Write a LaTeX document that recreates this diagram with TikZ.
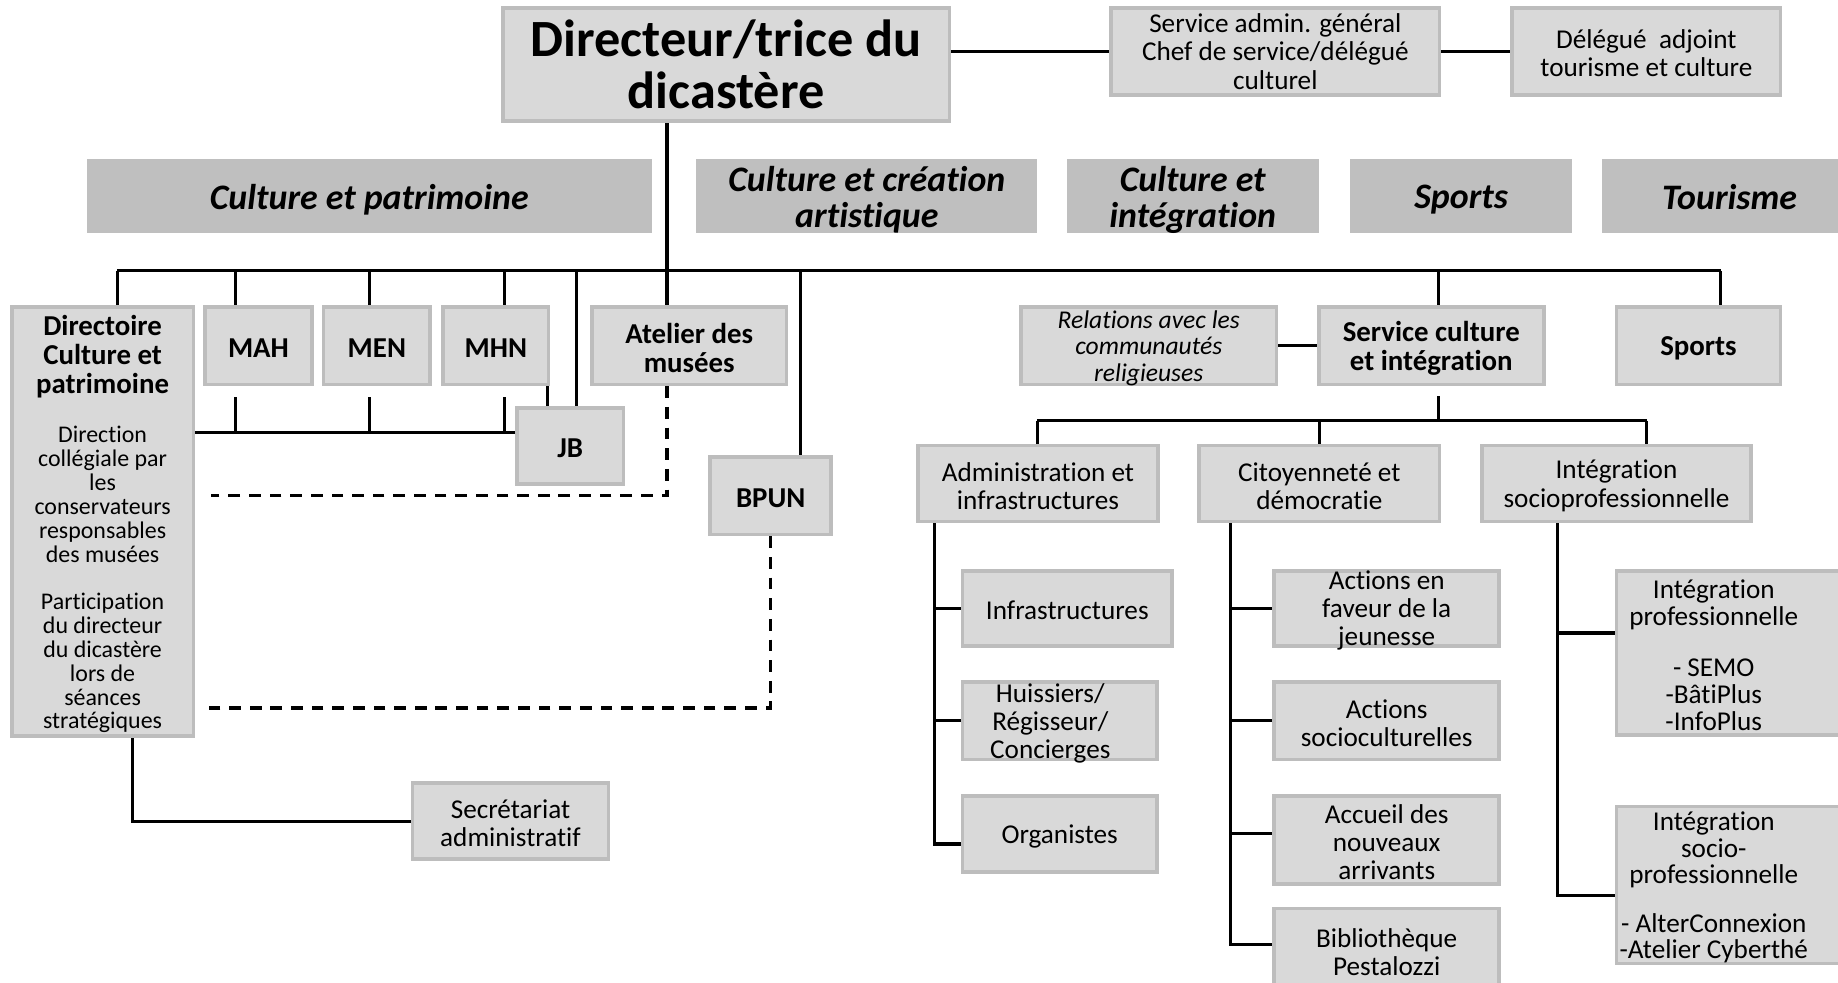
\documentclass[tikz,border=0pt]{standalone}
\usepackage{fontspec}
\setmainfont{Carlito}[Ligatures=NoCommon]
\definecolor{boxfill}{HTML}{D9D9D9}
\definecolor{boxline}{HTML}{BDBDBD}
\definecolor{catfill}{HTML}{BFBFBF}
\pgfdeclarelayer{background}
\pgfsetlayers{background,main}
\newcommand{\dpar}{\par}
\begin{document}
\begin{tikzpicture}[x=0.5pt,y=-0.5pt,
  every label/.append style={yshift=-1pt},
  box/.style={draw=boxline, fill=boxfill, line width=1.6pt, inner sep=0pt},
  wh/.style n args={2}{minimum width=#1*0.5pt, minimum height=#2*0.5pt},
  cat/.style={fill=catfill, draw=none, inner sep=0pt},
  tn/.style={align=center, inner sep=0pt, font=\fontsize{11.6}{12}\selectfont},
  tp/.style={align=center, inner sep=0pt, font=\fontsize{11.6}{11.5}\selectfont},
  tb/.style={align=center, inner sep=0pt, font=\fontsize{12.3}{12.5}\selectfont\bfseries},
  ti/.style={align=center, inner sep=0pt, font=\fontsize{10.9}{11.25}\selectfont\itshape},
  tc/.style={align=center, inner sep=0pt, yshift=-0.5pt, font=\fontsize{15.3}{15.5}\selectfont\bfseries\itshape},
  conn/.style={line width=1.3pt, black},
  dconn/.style={conn, dash pattern=on 5pt off 3.8pt},
]
\useasboundingbox (0,0) rectangle (1568,838);
\clip (0,0) rectangle (1568,838);

% ---- top
\node[box, wh={381}{96}, label={[align=center, inner sep=0pt, yshift=1pt, font=\fontsize{22.3}{22.5}\selectfont\bfseries]center:{Directeur/trice du\\dicastère}}] (dir) at (619.5,55) {};
\node[box, wh={280}{74}, label={[tn, yshift=1pt]center:{Service admin. général\\Chef de service/délégué\\culturel}}] (sag) at (1088,44) {};
\node[box, wh={229}{74}, label={[tn, yshift=0.5pt]center:{Délégué\ \ adjoint\\tourisme et culture}}] (del) at (1404.5,44) {};

% ---- categories
\node[cat, wh={482}{63}, label={[tc]center:{Culture et patrimoine}}] (ccp) at (315,167.5) {};
\node[cat, wh={291}{63}, label={[tc]center:{Culture et création\\artistique}}] (ccc) at (739.5,167.5) {};
\node[cat, wh={215}{63}, label={[tc]center:{Culture et\\intégration}}] (cci) at (1017.5,167.5) {};
\node[cat, wh={189}{63}, label={[tc]center:{Sports}}] (csp) at (1246.5,167.5) {};
\node[cat, wh={217}{63}, label={[tc, yshift=1pt]center:{Tourisme}}] (ctou) at (1475.5,167.5) {};

% ---- left group
\node[box, wh={155}{366}, label={[align=flush center, inner sep=0pt, text width=76pt]center:{{\fontsize{12.3}{12.5}\selectfont\bfseries Directoire\\Culture et\\patrimoine\dpar}\vspace{10.8pt}{\fontsize{10.2}{10.2}\selectfont Direction\\collégiale par\\les\\conservateurs\\responsables\\des musées\dpar\vspace{9.8pt}Participation\\du directeur\\du dicastère\\lors de\\séances\\stratégiques\dpar}}}] (dcp) at (87.5,445) {};
\node[box, wh={91}{66}, label={[tb]center:{MAH}}] (mah) at (220.5,295) {};
\node[box, wh={91}{66}, label={[tb]center:{MEN}}] (men) at (321.5,295) {};
\node[box, wh={90}{66}, label={[tb]center:{MHN}}] (mhn) at (423,295) {};
\node[box, wh={166}{66}, label={[tb]center:{Atelier des\\musées}}] (atel) at (588,295) {};
\node[box, wh={91}{65}, label={[tb]center:{JB}}] (jb) at (486.5,380.5) {};
\node[box, wh={103}{66}, label={[tb]center:{BPUN}}] (bpun) at (657.5,423) {};
\node[box, wh={167}{65}, label={[tn]center:{Secrétariat\\administratif}}] (sec) at (435.5,700.5) {};

% ---- right group
\node[box, wh={218}{66}, label={[ti]center:{Relations avec les\\communautés\\religieuses}}] (rel) at (980,295) {};
\node[box, wh={192}{66}, label={[tb]center:{Service culture\\et intégration}}] (sci) at (1221,295) {};
\node[box, wh={140}{66}, label={[tb]center:{Sports}}] (spo) at (1449,295) {};
\node[box, wh={205}{65}, label={[tn]center:{Administration et\\infrastructures}}] (adm) at (885.5,412.5) {};
\node[box, wh={205}{65}, label={[tn]center:{Citoyenneté et\\démocratie}}] (cit) at (1125.5,412.5) {};
\node[box, wh={230}{65}, label={[tn]center:{Intégration\\socioprofessionnelle}}] (isp) at (1379,412.5) {};

\node[box, wh={179}{64}, label={[tn]center:{Infrastructures}}] (inf) at (910.5,519) {};
\node[box, wh={166}{66}, label={[tn, xshift=-4pt]center:{Huissiers/\\Régisseur/\\Concierges}}] (hui) at (904,615) {};
\node[box, wh={166}{65}, label={[tn]center:{Organistes}}] (org) at (904,711.5) {};

\node[box, wh={192}{64}, label={[tn]center:{Actions en\\faveur de la\\jeunesse}}] (ajeu) at (1183,519) {};
\node[box, wh={192}{66}, label={[tn]center:{Actions\\socioculturelles}}] (asoc) at (1183,615) {};
\node[box, wh={192}{75}, label={[tn]center:{Accueil des\\nouveaux\\arrivants}}] (acc) at (1183,716.5) {};
\node[box, wh={192}{70}, label={[tn]center:{Bibliothèque\\Pestalozzi}}] (bib) at (1183,810) {};

\node[box, wh={196}{140}, label={[tp, xshift=-7.5pt]center:{Intégration\\professionnelle\\[10.5pt]- SEMO\\-BâtiPlus\\-InfoPlus}}] (ipro) at (1477,557) {};
\node[box, wh={196}{134}, label={[tp, xshift=-7.5pt]center:{Intégration\\socio-\\professionnelle\\[9pt]- AlterConnexion\\-Atelier Cyberthé}}] (isoc) at (1477,755) {};

% ---- connectors
\begin{pgfonlayer}{background}
\fill[white] (0,0) rectangle (1568,838);
\draw[conn] (sag.west -| dir.east) -- (sag.west);
\draw[conn] (sag.east) -- (del.west);

\coordinate (trunk) at (569,231);
\coordinate (busL) at (100,231);
\coordinate (busR) at (1468,231);
\coordinate (dMAH) at (201,231);
\coordinate (dMEN) at (315,231);
\coordinate (dMHN) at (430,231);
\coordinate (dJB) at (492,231);
\coordinate (dBP) at (683,231);
\coordinate (dSCI) at (1227,231);
\draw[conn] (trunk |- dir.south) -- (trunk |- atel.north);
\draw[conn] (busL) -- (busR);
\draw[conn] (busL) -- (busL |- dcp.north);
\draw[conn] (dMAH) -- (dMAH |- mah.north);
\draw[conn] (dMEN) -- (dMEN |- men.north);
\draw[conn] (dMHN) -- (dMHN |- mhn.north);
\draw[conn] (dJB) -- (dJB |- jb.north);
\draw[conn] (dBP) -- (dBP |- bpun.north);
\draw[conn] (dSCI) -- (dSCI |- sci.north);
\draw[conn] (busR) -- (busR |- spo.north);

\coordinate (hbar) at (0,369);
\draw[conn] (hbar -| dcp.east) -- (hbar -| jb.west);
\draw[conn] (hbar -| dMAH) -- ++(0,-30);
\draw[conn] (hbar -| dMEN) -- ++(0,-30);
\draw[conn] (hbar -| dMHN) -- ++(0,-30);
\coordinate (mj) at (467,0);
\draw[conn] (mj |- mhn.south) -- (mj |- jb.north);

\coordinate (da) at (180,423);
\draw[dconn] (trunk |- atel.south) |- (da);
\coordinate (db) at (176,604);
\draw[dconn] (bpun.south) |- (db);

\coordinate (sx) at (113,0);
\draw[conn] (sx |- dcp.south) |- (sec.west);

\draw[conn] (rel.east) -- (sci.west);
\coordinate (b2) at (1227,359);
\coordinate (b2L) at (885,359);
\coordinate (b2M) at (1126,359);
\coordinate (b2R) at (1405,359);
\draw[conn] (b2) -- ++(0,-21);
\draw[conn] (b2L) -- (b2R);
\draw[conn] (b2L) -- (b2L |- adm.north);
\draw[conn] (b2M) -- (b2M |- cit.north);
\draw[conn] (b2R) -- (b2R |- isp.north);

\coordinate (av) at (797,720);
\draw[conn] (av |- adm.south) -- (av) -- (av -| org.west);
\draw[conn] (av |- inf.west) -- (inf.west);
\draw[conn] (av |- hui.west) -- (hui.west);

\coordinate (cv) at (1050,806);
\coordinate (cacc) at (1050,711);
\draw[conn] (cv |- cit.south) -- (cv) -- (cv -| bib.west);
\draw[conn] (cv |- ajeu.west) -- (ajeu.west);
\draw[conn] (cv |- asoc.west) -- (asoc.west);
\draw[conn] (cacc) -- (cacc -| acc.west);

\coordinate (iv) at (1329,764);
\coordinate (ipr) at (1329,540);
\draw[conn] (iv |- isp.south) -- (iv) -- (iv -| isoc.west);
\draw[conn] (ipr) -- (ipr -| ipro.west);
\end{pgfonlayer}
\end{tikzpicture}
\end{document}
